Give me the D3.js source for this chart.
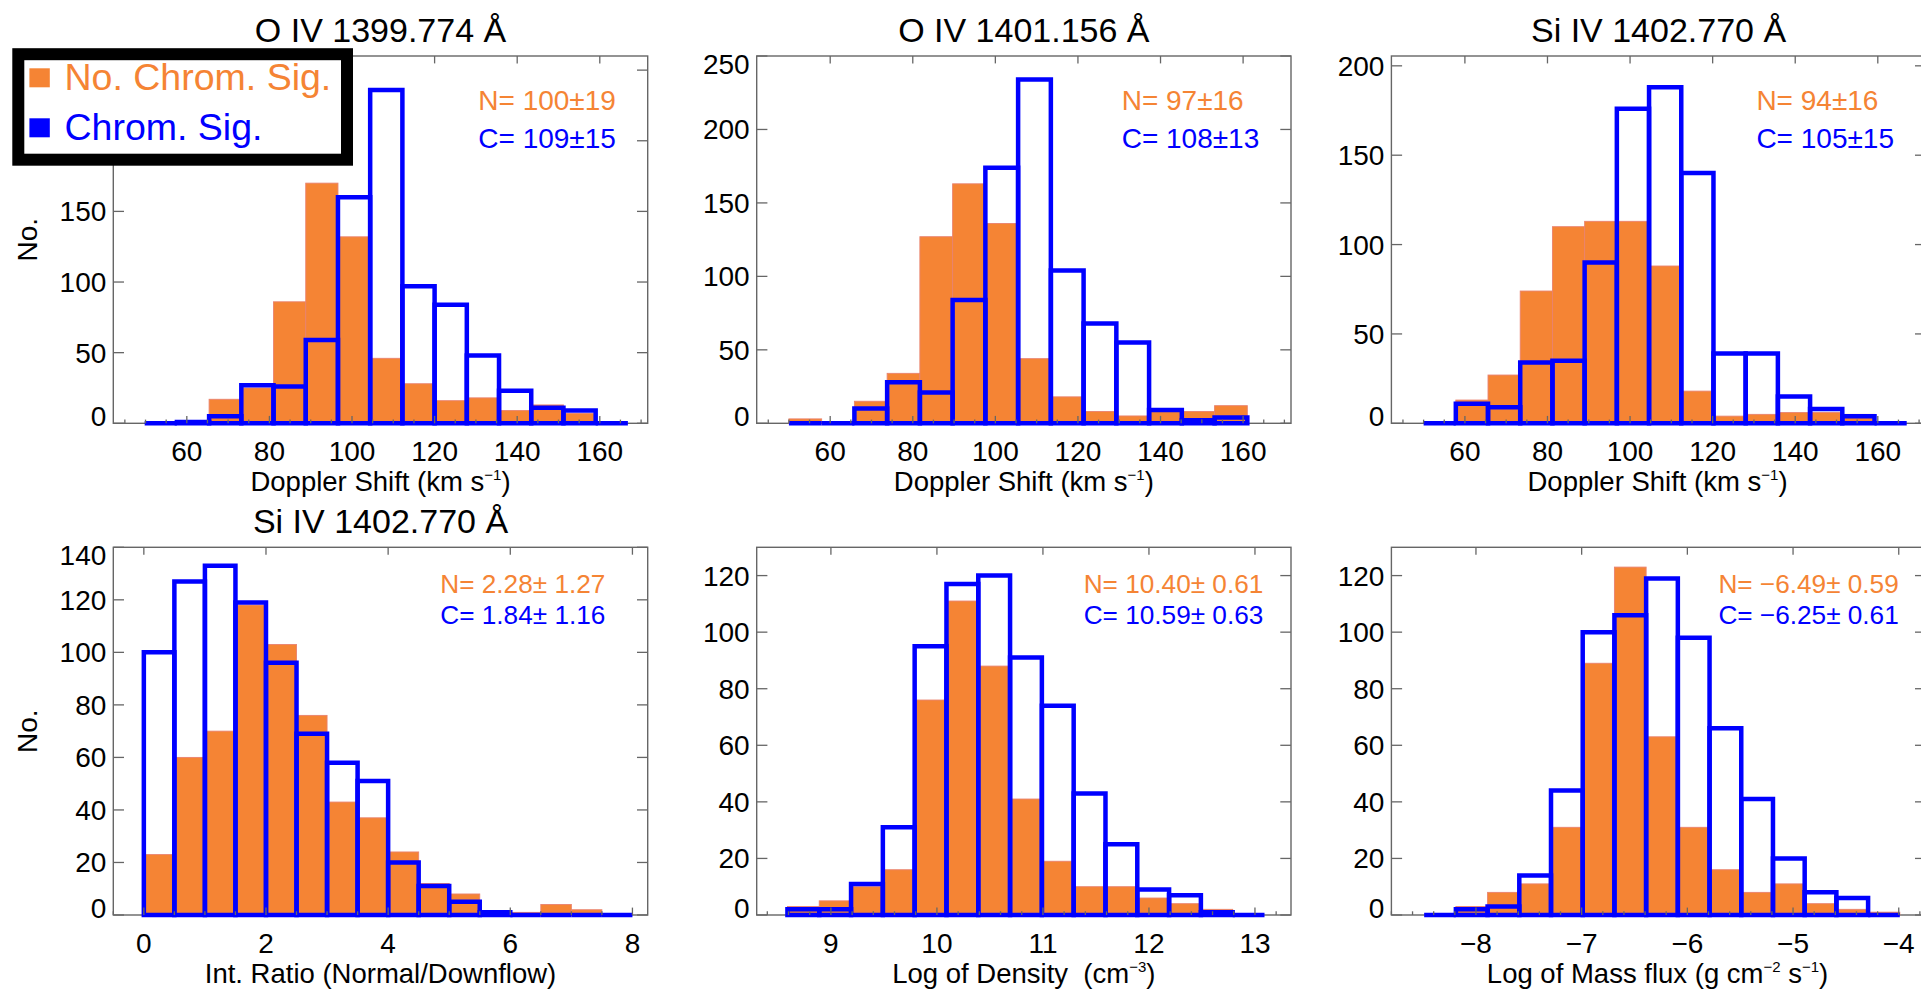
<!DOCTYPE html>
<html>
<head>
<meta charset="utf-8">
<script src="https://cdn.jsdelivr.net/npm/d3@7"></script>
<style>
  html, body { margin: 0; padding: 0; background: #fff; }
  svg { display: block; }
  text { font-family: "Liberation Sans", Arial, Helvetica, sans-serif; }
</style>
</head>
<body>
<svg id="chart" width="1921" height="989"></svg>
<script>
// ---- Histogram counts (N = no chromospheric signature, C = chromospheric signature) ----
const oiv1399N = [0, 1, 17, 25, 86, 170, 132, 46, 28, 16, 18, 9, 13, 7, 0];
const oiv1399C = [0, 1, 5, 27, 26, 59, 160, 236, 97, 84, 48, 23, 11, 9, 0];

const oiv1401N = [3, 0, 15, 34, 127, 163, 136, 44, 18, 8, 5, 8, 8, 12];
const oiv1401C = [0, 0, 10, 28, 21, 84, 174, 234, 104, 68, 55, 9, 2, 4];

const siiv1402N = [0, 13, 27, 74, 110, 113, 113, 88, 18, 4, 5, 6, 6, 5, 0];
const siiv1402C = [0, 11, 9, 34, 35, 90, 176, 188, 140, 39, 39, 15, 8, 4, 0];

const ratioN = [23, 60, 70, 118, 103, 76, 43, 37, 24, 12, 8, 1, 1, 4, 2, 0];
const ratioC = [100, 127, 133, 119, 96, 69, 58, 51, 20, 11, 5, 1, 0, 0, 0, 0];

const densityN = [3, 5, 10, 16, 76, 111, 88, 41, 19, 10, 10, 6, 4, 2, 0];
const densityC = [2, 2, 11, 31, 95, 117, 120, 91, 74, 43, 25, 9, 7, 1, 0];

const massFluxN = [0, 3, 8, 11, 31, 89, 123, 63, 31, 16, 8, 11, 4, 2, 1];
const massFluxC = [0, 2, 3, 14, 44, 100, 106, 119, 98, 66, 41, 20, 8, 6, 0];

// Bin layout of each histogram: first bin edge and bin width
const binStarts = [49.8, 50.0, 50.0, 0, 8.59, -8.49];
const binWidths = [7.8, 7.93, 7.8, 0.5, 0.3, 0.3];

// Axis ranges and ticks
const xDomains = [[42.2, 171.6], [42.2, 171.6], [42.2, 171.6], [-0.5, 8.25], [8.3, 13.34], [-8.8, -3.745]];
const yMaxes = [260, 250, 205.5, 140, 130, 130];
const dopplerTicks = [60, 80, 100, 120, 140, 160];
const ratioTicks = [0, 2, 4, 6, 8];
const densityTicks = [9, 10, 11, 12, 13];
const massFluxTicks = [-8, -7, -6, -5, -4];
const minorSteps = [5, 5, 5, 0.5, 0.2, 0.2];
const yTicks1 = [0, 50, 100, 150, 200, 250];
const yTicks3 = [0, 50, 100, 150, 200];
const yTicksLow = [0, 20, 40, 60, 80, 100, 120, 140];

// Texts
const titles = ["O IV 1399.774 Å", "O IV 1401.156 Å", "Si IV 1402.770 Å", "Si IV 1402.770 Å", "", ""];
const statsN = ["N= 100±19", "N= 97±16", "N= 94±16", "N= 2.28± 1.27", "N= 10.40± 0.61", "N= \u22126.49± 0.59"];
const statsC = ["C= 109±15", "C= 108±13", "C= 105±15", "C= 1.84± 1.16", "C= 10.59± 0.63", "C= \u22126.25± 0.61"];
const xTitles = [
  [["Doppler Shift (km s"], ["\u22121", "sup"], [")"]],
  [["Doppler Shift (km s"], ["\u22121", "sup"], [")"]],
  [["Doppler Shift (km s"], ["\u22121", "sup"], [")"]],
  [["Int. Ratio (Normal/Downflow)"]],
  [["Log of Density\u00a0 (cm"], ["\u22123", "sup"], [")"]],
  [["Log of Mass flux (g cm"], ["\u22122", "sup"], [" s"], ["\u22121", "sup"], [")"]]
];
const legendLabels = ["No. Chrom. Sig.", "Chrom. Sig."];

// ---- Styling ----
const ORANGE = "#f58434";
const ORANGE_EDGE = "#e9826e";
const BLUE = "#0000ff";
const FRAME = "#666666";

const panels = [
  { n: oiv1399N, c: oiv1399C, xt: dopplerTicks, yt: yTicks1, col: 0, row: 0, yLabel: true },
  { n: oiv1401N, c: oiv1401C, xt: dopplerTicks, yt: yTicks1, col: 1, row: 0 },
  { n: siiv1402N, c: siiv1402C, xt: dopplerTicks, yt: yTicks3, col: 2, row: 0 },
  { n: ratioN, c: ratioC, xt: ratioTicks, yt: yTicksLow, col: 0, row: 1, yLabel: true },
  { n: densityN, c: densityC, xt: densityTicks, yt: yTicksLow, col: 1, row: 1 },
  { n: massFluxN, c: massFluxC, xt: massFluxTicks, yt: yTicksLow, col: 2, row: 1 }
];

const cols = [[113.3, 647.7], [756.7, 1291], [1391.4, 1925.7]];
const rows = [[56, 423.3], [547.3, 915]];

// Legend box area (drawn last, on top of the first panel's upper-left corner)
const legendBox = { x: 18.3, y: 54.2, w: 328.7, h: 105.5, border: 12 };

const svg = d3.select("#chart");
svg.append("rect").attr("width", 1921).attr("height", 989).attr("fill", "#fff");

const fmtTick = v => (v < 0 ? "\u2212" + Math.abs(v) : String(v));
const underLegend = (px, py) =>
  px < legendBox.x + legendBox.w + legendBox.border / 2 &&
  py > legendBox.y - legendBox.border / 2 &&
  py < legendBox.y + legendBox.h + legendBox.border / 2;

panels.forEach((p, k) => {
  const [x0, x1] = cols[p.col];
  const [y0, y1] = rows[p.row];
  const x = d3.scaleLinear().domain(xDomains[k]).range([x0, x1]);
  const y = d3.scaleLinear().domain([0, yMaxes[k]]).range([y1, y0]);
  const g = svg.append("g");
  const start = binStarts[k], w = binWidths[k];
  const yt = p.yt.filter(v => v <= yMaxes[k] + 1e-9);

  // Frame
  g.append("rect").attr("x", x0).attr("y", y0).attr("width", x1 - x0).attr("height", y1 - y0)
    .attr("fill", "none").attr("stroke", FRAME).attr("stroke-width", 1.4);

  // Orange filled bars
  g.append("g").selectAll("rect").data(p.n.map((v, i) => ({ v, i })).filter(d => d.v > 0))
    .join("rect")
    .attr("x", d => x(start + d.i * w))
    .attr("width", d => x(start + (d.i + 1) * w) - x(start + d.i * w))
    .attr("y", d => y(d.v))
    .attr("height", d => y(0) - y(d.v))
    .attr("fill", ORANGE).attr("stroke", ORANGE_EDGE).attr("stroke-width", 0.9);

  // Blue outlined bins
  g.append("g").selectAll("path").data(p.c.map((v, i) => ({ v, i })))
    .join("path")
    .attr("d", d => {
      const a = x(start + d.i * w), b = x(start + (d.i + 1) * w), t = y(d.v), z = y(0);
      return `M${a},${z}V${t}H${b}V${z}Z`;
    })
    .attr("fill", "none").attr("stroke", BLUE).attr("stroke-width", 4.5)
    .attr("stroke-linejoin", "miter");

  // Tick marks
  const tk = g.append("g").attr("stroke", FRAME).attr("stroke-width", 1.3);
  const [d0, d1] = xDomains[k];
  p.xt.forEach(v => {
    const px = x(v);
    if (px < x0 - 0.5 || px > x1 + 0.5) return;
    tk.append("line").attr("x1", px).attr("x2", px).attr("y1", y1).attr("y2", y1 - 7.4);
    tk.append("line").attr("x1", px).attr("x2", px).attr("y1", y0).attr("y2", y0 + 7.4);
  });
  const ms = minorSteps[k];
  for (let v = Math.ceil(d0 / ms - 1e-6) * ms; v <= d1 + 1e-9; v += ms) {
    const vv = Math.round(v / ms) * ms;
    if (p.xt.some(t => Math.abs(t - vv) < 1e-6)) continue;
    const px = x(vv);
    tk.append("line").attr("x1", px).attr("x2", px).attr("y1", y1).attr("y2", y1 - 3.7);
  }
  yt.forEach(v => {
    const py = y(v);
    tk.append("line").attr("x1", x0).attr("x2", x0 + 10.7).attr("y1", py).attr("y2", py);
    tk.append("line").attr("x1", x1).attr("x2", x1 - 10.7).attr("y1", py).attr("y2", py);
  });

  // Tick labels
  p.xt.forEach(v => {
    g.append("text").attr("x", x(v)).attr("y", y1 + 37.5)
      .attr("text-anchor", "middle").attr("font-size", 28).attr("fill", "#000")
      .text(fmtTick(v));
  });
  yt.forEach(v => {
    let py = y(v);
    if (Math.abs(py - y0) < 2) py = y0 + 8;
    if (Math.abs(py - y1) < 2) py = y1 - 7;
    if (underLegend(x0 - 30, py)) return; // hidden behind the legend box
    g.append("text").attr("x", x0 - 7).attr("y", py).attr("dy", "0.355em")
      .attr("text-anchor", "end").attr("font-size", 28).attr("fill", "#000")
      .text(fmtTick(v));
  });

  // Axis title with superscripts
  const xt = g.append("text").attr("x", (x0 + x1) / 2 - (p.col === 2 ? 1 : 0))
    .attr("y", y1 + 68).attr("text-anchor", "middle").attr("font-size", 27.5).attr("fill", "#000");
  let raised = false;
  xTitles[k].forEach(([t, kind]) => {
    const ts = xt.append("tspan").text(t);
    if (kind === "sup" && !raised) { ts.attr("dy", -11).attr("font-size", 15); raised = true; }
    else if (kind !== "sup" && raised) { ts.attr("dy", 11); raised = false; }
    else if (kind === "sup") { ts.attr("font-size", 15); }
  });

  if (p.yLabel) {
    g.append("text")
      .attr("transform", `translate(37,${(y0 + y1) / 2}) rotate(-90)`)
      .attr("text-anchor", "middle").attr("font-size", 28).attr("fill", "#000")
      .text("No.");
  }

  if (titles[k]) {
    g.append("text").attr("x", (x0 + x1) / 2).attr("y", y0 - 14.3)
      .attr("text-anchor", "middle").attr("font-size", 34).attr("fill", "#000")
      .text(titles[k]);
  }

  // Statistics annotation
  const top = p.row === 0;
  const ax = x0 + (top ? 365 : 327);
  g.append("text").attr("x", ax).attr("y", top ? y0 + 54 : y0 + 46)
    .attr("font-size", top ? 28 : 26.2).attr("fill", ORANGE).text(statsN[k]);
  g.append("text").attr("x", ax).attr("y", top ? y0 + 92.3 : y0 + 77)
    .attr("font-size", top ? 28 : 26.2).attr("fill", BLUE).text(statsC[k]);
});

// Legend box
const lg = svg.append("g");
lg.append("rect").attr("x", legendBox.x).attr("y", legendBox.y)
  .attr("width", legendBox.w).attr("height", legendBox.h)
  .attr("fill", "#fff").attr("stroke", "#000").attr("stroke-width", legendBox.border);
[ORANGE, BLUE].forEach((c, i) => {
  lg.append("rect").attr("x", 29.4).attr("y", 68.3 + i * 50).attr("width", 20.4).attr("height", 19)
    .attr("fill", c);
  lg.append("text").attr("x", 64.5).attr("y", 90 + i * 50).attr("font-size", 37.5)
    .attr("fill", c).text(legendLabels[i]);
});
</script>
</body>
</html>
